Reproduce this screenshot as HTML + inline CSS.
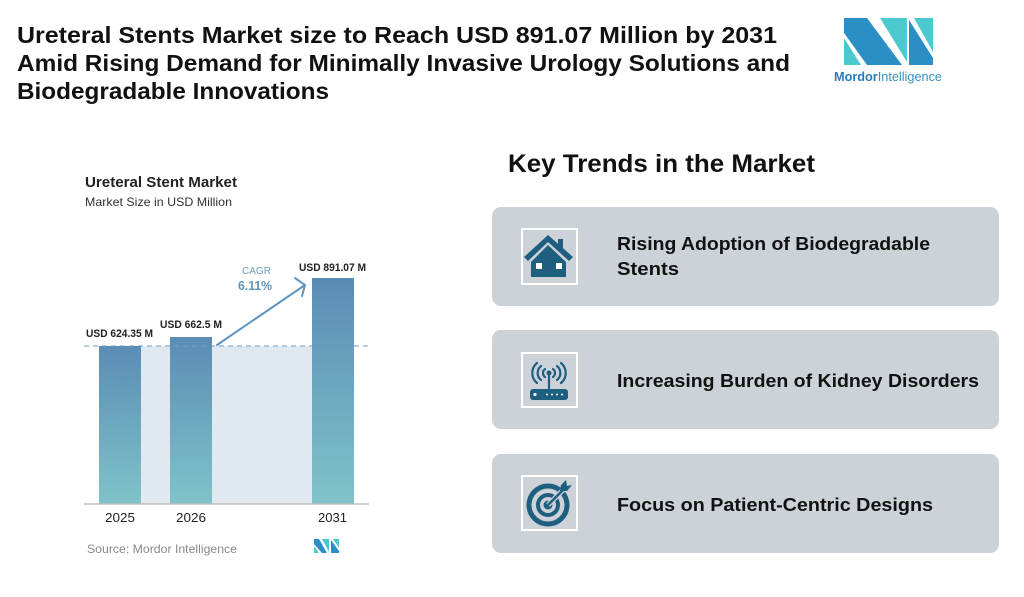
<!DOCTYPE html>
<html>
<head>
<meta charset="utf-8">
<style>
html,body{margin:0;padding:0;background:#fff;}
svg{display:block;}
text{font-family:"Liberation Sans",sans-serif;}
</style>
</head>
<body>
<svg width="1024" height="597" viewBox="0 0 1024 597" xmlns="http://www.w3.org/2000/svg">
<defs>
<linearGradient id="bar" x1="0" y1="0" x2="0" y2="1">
<stop offset="0" stop-color="#5a8cb5"/>
<stop offset="1" stop-color="#80c3c9"/>
</linearGradient>
</defs>
<rect width="1024" height="597" fill="#fff"/>

<!-- Title -->
<g font-weight="bold" font-size="23" fill="#111">
<text x="17" y="43" textLength="760" lengthAdjust="spacingAndGlyphs">Ureteral Stents Market size to Reach USD 891.07 Million by 2031</text>
<text x="17" y="71" textLength="773" lengthAdjust="spacingAndGlyphs">Amid Rising Demand for Minimally Invasive Urology Solutions and</text>
<text x="17" y="99" textLength="312" lengthAdjust="spacingAndGlyphs">Biodegradable Innovations</text>
</g>

<!-- Logo top right -->
<g>
<polygon points="844,18 867,18 902,65 867,65 844,33" fill="#2b8ec4"/>
<polygon points="844,38 844,65 861,65" fill="#4cc9cf"/>
<polygon points="880,18 907,18 907,62" fill="#4cc9cf"/>
<polygon points="909,20 933,58 933,65 909,65" fill="#2b8ec4"/>
<polygon points="914,18 933,18 933,52" fill="#4cc9cf"/>
<text x="834" y="81" font-size="12.5" textLength="108" lengthAdjust="spacingAndGlyphs"><tspan font-weight="bold" fill="#2a7db5">Mordor</tspan><tspan fill="#3a90c2">Intelligence</tspan></text>
</g>

<!-- Chart -->
<text x="85" y="187" font-size="14.5" font-weight="bold" fill="#222" textLength="152" lengthAdjust="spacingAndGlyphs">Ureteral Stent Market</text>
<text x="85" y="206" font-size="12" fill="#333" textLength="147" lengthAdjust="spacingAndGlyphs">Market Size in USD Million</text>

<rect x="141" y="346" width="171" height="158" fill="#e0e9f0"/>
<rect x="99" y="346" width="42" height="158" fill="url(#bar)"/>
<rect x="170" y="337" width="42" height="167" fill="url(#bar)"/>
<rect x="312" y="278" width="42" height="226" fill="url(#bar)"/>
<line x1="84" y1="346" x2="370" y2="346" stroke="#6f9cc0" stroke-width="1" stroke-dasharray="5,4"/>
<line x1="84" y1="504" x2="369" y2="504" stroke="#bdbdbd" stroke-width="1.5"/>

<g font-size="11" fill="#222" font-weight="bold">
<text x="86" y="337" textLength="67" lengthAdjust="spacingAndGlyphs">USD 624.35 M</text>
<text x="160" y="328" textLength="62" lengthAdjust="spacingAndGlyphs">USD 662.5 M</text>
<text x="299" y="271" textLength="67" lengthAdjust="spacingAndGlyphs">USD 891.07 M</text>
</g>
<text x="242" y="274" font-size="10" fill="#6f9cc0" textLength="29" lengthAdjust="spacingAndGlyphs">CAGR</text>
<text x="238" y="290" font-size="13" font-weight="bold" fill="#5e95bf" textLength="34" lengthAdjust="spacingAndGlyphs">6.11%</text>
<g stroke="#5e95bf" stroke-width="2" fill="none" stroke-linecap="round">
<line x1="217" y1="345" x2="305" y2="285"/>
<polyline points="295,278 305,285 302,296"/>
</g>

<g font-size="13" fill="#222">
<text x="105" y="522" textLength="30" lengthAdjust="spacingAndGlyphs">2025</text>
<text x="176" y="522" textLength="30" lengthAdjust="spacingAndGlyphs">2026</text>
<text x="318" y="522" textLength="29" lengthAdjust="spacingAndGlyphs">2031</text>
</g>
<text x="87" y="553" font-size="12" fill="#888" textLength="150" lengthAdjust="spacingAndGlyphs">Source: Mordor Intelligence</text>
<g>
<polygon points="314,539 319,539 327,553 322,553 314,544" fill="#2b8ec4"/>
<polygon points="314,546 314,553 319,553" fill="#4cc9cf"/>
<polygon points="322,539 329,539 329,552" fill="#4cc9cf"/>
<polygon points="331,540 339,551 339,553 331,553" fill="#2b8ec4"/>
<polygon points="333,539 339,539 339,548" fill="#4cc9cf"/>
</g>

<!-- Key Trends -->
<text x="508" y="172" font-size="25" font-weight="bold" fill="#111" textLength="307" lengthAdjust="spacingAndGlyphs">Key Trends in the Market</text>

<rect x="492" y="207" width="507" height="99" rx="9" fill="#cdd2d9"/>
<rect x="492" y="330" width="507" height="99" rx="9" fill="#cdd2d9"/>
<rect x="492" y="454" width="507" height="99" rx="9" fill="#cdd2d9"/>

<rect x="522" y="229" width="55" height="55" fill="none" stroke="#fff" stroke-width="2"/>
<rect x="522" y="353" width="55" height="54" fill="none" stroke="#fff" stroke-width="2"/>
<rect x="522" y="476" width="55" height="54" fill="none" stroke="#fff" stroke-width="2"/>

<!-- house icon -->
<g fill="#1e5f80">
<rect x="558" y="239" width="5" height="12"/>
<polygon points="524,257 548,235 573,257 569,261 548,242 528,261"/>
<polygon points="531,262 548,245 566,262 566,277 531,277"/>
<rect x="536" y="263" width="6" height="6" fill="#fff"/>
<rect x="556" y="263" width="6" height="6" fill="#fff"/>
</g>

<!-- router icon -->
<g stroke="#1e5f80" fill="none" stroke-width="2.2" stroke-linecap="round">
<path d="M545,369 a5,5 0 0 0 0,8"/>
<path d="M553,369 a5,5 0 0 1 0,8"/>
<path d="M541,366 a9,9 0 0 0 0,14"/>
<path d="M557,366 a9,9 0 0 1 0,14"/>
<path d="M537,363 a13,13 0 0 0 0,20"/>
<path d="M561,363 a13,13 0 0 1 0,20"/>
<line x1="549" y1="373" x2="549" y2="390"/>
</g>
<circle cx="549" cy="373" r="2.5" fill="#1e5f80"/>
<rect x="530" y="389" width="38" height="11" rx="3" fill="#1e5f80"/>
<g fill="#fff">
<circle cx="535" cy="394.5" r="1.6"/>
<circle cx="547" cy="394.5" r="1"/>
<circle cx="552" cy="394.5" r="1"/>
<circle cx="557" cy="394.5" r="1"/>
<circle cx="562" cy="394.5" r="1"/>
</g>

<!-- target icon -->
<g fill="none" stroke="#1e5f80">
<circle cx="548" cy="505" r="19" stroke-width="5"/>
<circle cx="548" cy="505" r="10" stroke-width="4"/>
</g>
<circle cx="548" cy="505" r="4.5" fill="#1e5f80"/>
<line x1="548" y1="505" x2="565" y2="488" stroke="#cdd2d9" stroke-width="5"/>
<line x1="548" y1="505" x2="565" y2="488" stroke="#1e5f80" stroke-width="2.5"/>
<polygon points="561,485 566,480 567,486 572,485 567,491 560,491" fill="#1e5f80"/>

<g font-size="18" font-weight="bold" fill="#111">
<text x="617" y="250" textLength="313" lengthAdjust="spacingAndGlyphs">Rising Adoption of Biodegradable</text>
<text x="617" y="275" textLength="62" lengthAdjust="spacingAndGlyphs">Stents</text>
<text x="617" y="387" textLength="362" lengthAdjust="spacingAndGlyphs">Increasing Burden of Kidney Disorders</text>
<text x="617" y="511" textLength="316" lengthAdjust="spacingAndGlyphs">Focus on Patient-Centric Designs</text>
</g>
</svg>
</body>
</html>
